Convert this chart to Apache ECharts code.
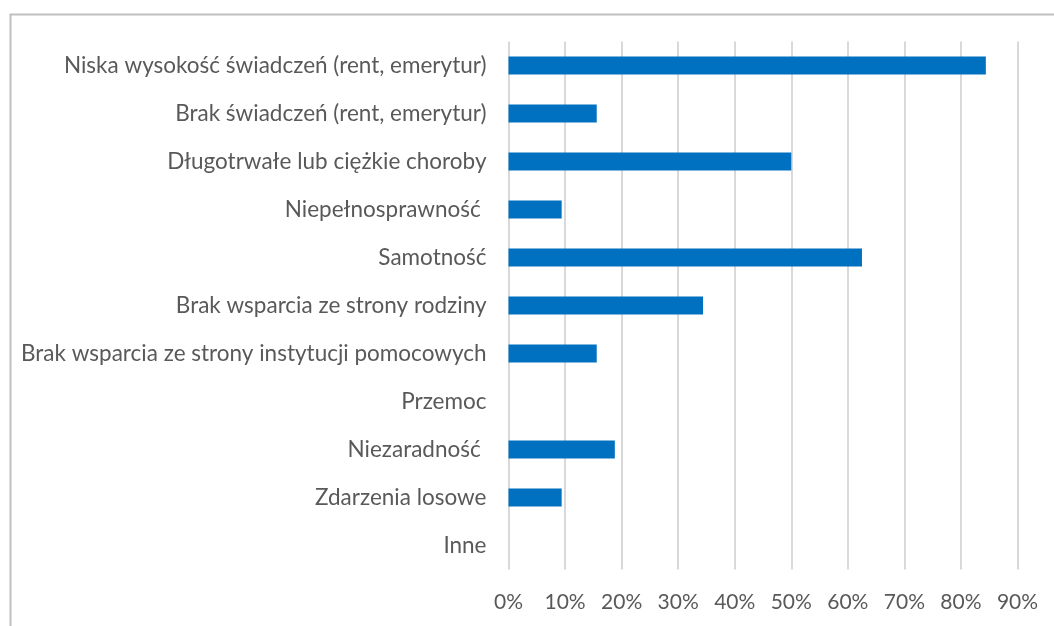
<!DOCTYPE html>
<html><head><meta charset="utf-8">
<script src="https://cdn.jsdelivr.net/npm/echarts@6/dist/echarts.min.js"></script>
<style>html,body{margin:0;padding:0;background:#fff}#c{width:1054px;height:626px}</style>
</head><body><div id="c"></div>
<script>
const categories = [
  "Niska wysokość świadczeń (rent, emerytur)",
  "Brak świadczeń (rent, emerytur)",
  "Długotrwałe lub ciężkie choroby",
  "Niepełnosprawność ",
  "Samotność",
  "Brak wsparcia ze strony rodziny",
  "Brak wsparcia ze strony instytucji pomocowych",
  "Przemoc",
  "Niezaradność ",
  "Zdarzenia losowe",
  "Inne"
];
const values = [84.4, 15.6, 50.0, 9.4, 62.5, 34.4, 15.6, 0, 18.8, 9.4, 0];
const tickMin = 0, tickMax = 90, tickStep = 10;

const chart = echarts.init(document.getElementById('c'), null, {renderer: 'canvas'});
const font = 'Lato, "Open Sans", sans-serif';
chart.setOption({
  animation: false,
  backgroundColor: '#ffffff',
  graphic: [{
    type: 'rect', left: 8, top: 12,
    shape: {x: 0, y: 0, width: 1100, height: 700},
    style: {fill: 'none', stroke: '#bfbfbf', lineWidth: 2}
  }],
  grid: {left: 508.5, right: 36.5, top: 41.5, bottom: 56.5, containLabel: false},
  xAxis: {
    type: 'value', min: tickMin, max: tickMax, interval: tickStep,
    axisLine: {show: false}, axisTick: {show: false},
    axisLabel: {formatter: '{value}%', color: '#595959', fontFamily: font, fontSize: 21, margin: 22},
    splitLine: {show: true, lineStyle: {color: '#d9d9d9', width: 2}}
  },
  yAxis: {
    type: 'category', data: categories, inverse: true,
    axisLine: {show: false}, axisTick: {show: false},
    axisLabel: {color: '#595959', fontFamily: font, fontSize: 22.5, margin: 22},
    splitLine: {show: false}
  },
  series: [{
    type: 'bar', data: values, barWidth: 18,
    itemStyle: {color: '#0070c0'},
    silent: true
  }]
});
</script></body></html>
